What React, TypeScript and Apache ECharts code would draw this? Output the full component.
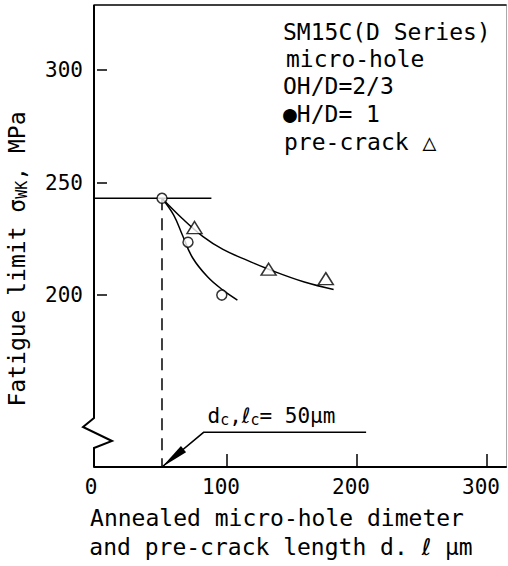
import React, { useEffect, useRef } from "react";
import * as echarts from "echarts";

// ---- data ----
const xTickLabels = [0, 100, 200, 300];
const xTickMarks = [100, 200, 300];
const yTickValues = [200, 250, 300];

// micro-hole H/D = 2/3 (open circles): diameter d (µm), fatigue limit (MPa)
const holeD = [50, 70, 96];
const holeSigma = [243, 223.5, 200];
// pre-crack (triangles): length l (µm), fatigue limit (MPa)
const crackL = [75, 132, 176];
const crackSigma = [230, 211.5, 207.3];

// hand-fitted curves through the points
const holeCurveX = [50, 59, 65.6, 73.4, 85.2, 96.9, 108];
const holeCurveY = [243, 235.5, 226.8, 216.7, 208, 202.2, 197.8];
const crackCurveX = [50, 65.6, 81.3, 96.9, 116.5, 134.5, 159.5, 182];
const crackCurveY = [243, 234, 226.1, 220.3, 215.2, 210.9, 205.8, 202.5];

// fatigue limit of smooth specimen and critical size
const limitSigma = 243;
const limitLineEnd = 88;
const criticalSize = 50;

// annotation anchor points (data units)
const annotElbow = [82, 139];
const annotEnd = [207, 139];
const annotText = [85, 141];

// axis ranges
const X_MIN = -2.3;
const X_MAX = 314.6;
const Y_MIN = 123.6;
const Y_MAX = 328.9;

const FONT = '"DejaVu Sans Mono", "DejaVu Sans", monospace';

const zip = (a: number[], b: number[]) => a.map((v, i) => [v, b[i]]);

export default function App() {
  const ref = useRef<HTMLDivElement>(null);
  useEffect(() => {
    if (!ref.current) return;
    const chart = echarts.init(ref.current, undefined, { renderer: "svg" });
    const black = "#000";
    chart.setOption({
      animation: false,
      backgroundColor: "#fff",
      textStyle: { fontFamily: FONT, color: black },
      grid: { left: 94, right: 2, top: 5, bottom: 99, containLabel: false },
      xAxis: [
        {
          type: "value",
          min: X_MIN,
          max: X_MAX,
          position: "bottom",
          axisLine: { show: true, onZero: false, lineStyle: { color: black, width: 2 } },
          axisTick: { show: true, inside: true, length: 13, customValues: xTickMarks, lineStyle: { color: black, width: 1.5 } },
          axisLabel: { show: true, customValues: xTickLabels, fontSize: 21, color: black, margin: 9, fontFamily: FONT, padding: [0, 12, 0, 0] },
          splitLine: { show: false },
        },
        {
          type: "value",
          min: X_MIN,
          max: X_MAX,
          position: "top",
          axisLine: { show: true, onZero: false, lineStyle: { color: black, width: 1.5 } },
          axisTick: { show: false },
          axisLabel: { show: false },
          splitLine: { show: false },
        },
      ],
      yAxis: [
        {
          type: "value",
          min: Y_MIN,
          max: Y_MAX,
          position: "left",
          axisLine: { show: false },
          axisTick: { show: true, inside: true, length: 10, customValues: yTickValues, lineStyle: { color: black, width: 1.5 } },
          axisLabel: { show: true, customValues: yTickValues, fontSize: 21, color: black, margin: 11, fontFamily: FONT },
          splitLine: { show: false },
        },
        {
          type: "value",
          min: Y_MIN,
          max: Y_MAX,
          position: "right",
          axisLine: { show: true, onZero: false, lineStyle: { color: "#aaa", width: 1 } },
          axisTick: { show: false },
          axisLabel: { show: false },
          splitLine: { show: false },
        },
      ],
      graphic: [
        // broken left axis with zig-zag
        {
          type: "polyline",
          z: 10,
          shape: { points: [[94, 5], [94, 418], [83, 427], [112, 441], [94, 448], [94, 467]] },
          style: { stroke: black, lineWidth: 2, fill: null },
        },
        // descriptive text block
        { type: "text", x: 283, y: 32, style: { text: "SM15C(D Series)", font: `23px ${FONT}`, fill: black, verticalAlign: "middle" } },
        { type: "text", x: 286, y: 59, style: { text: "micro-hole", font: `23px ${FONT}`, fill: black, verticalAlign: "middle" } },
        { type: "text", x: 283, y: 86, style: { text: "OH/D=2/3", font: `23px ${FONT}`, fill: black, verticalAlign: "middle" } },
        { type: "text", x: 283, y: 114, style: { text: "●H/D= 1", font: `23px ${FONT}`, fill: black, verticalAlign: "middle" } },
        { type: "text", x: 284, y: 142, style: { text: "pre-crack △", font: `23px ${FONT}`, fill: black, verticalAlign: "middle" } },
        // axis titles
        {
          type: "text",
          x: 17,
          y: 259,
          rotation: Math.PI / 2,
          style: {
            text: "Fatigue limit σ{sub|WK}, MPa",
            font: `23px ${FONT}`,
            fill: black,
            align: "center",
            verticalAlign: "middle",
            rich: { sub: { fontSize: 15, fontFamily: FONT, padding: [10, 0, 0, 0] } },
          },
        },
        { type: "text", x: 277, y: 518, style: { text: "Annealed micro-hole dimeter", font: `23px ${FONT}`, fill: black, align: "center", verticalAlign: "middle" } },
        { type: "text", x: 281, y: 547, style: { text: "and pre-crack length d. ℓ μm", font: `23px ${FONT}`, fill: black, align: "center", verticalAlign: "middle" } },
      ],
      series: [
        {
          type: "line",
          data: zip(holeCurveX, holeCurveY),
          smooth: 0.4,
          showSymbol: false,
          symbol: "none",
          lineStyle: { color: black, width: 1.5 },
          z: 2,
          silent: true,
        },
        {
          type: "line",
          data: zip(crackCurveX, crackCurveY),
          smooth: 0.4,
          showSymbol: false,
          symbol: "none",
          lineStyle: { color: black, width: 1.5 },
          z: 2,
          silent: true,
        },
        {
          type: "line",
          data: [[X_MIN, limitSigma], [limitLineEnd, limitSigma]],
          showSymbol: false,
          symbol: "none",
          lineStyle: { color: black, width: 1.5 },
          z: 2,
          silent: true,
        },
        {
          type: "line",
          data: [[criticalSize, limitSigma], [criticalSize, Y_MIN]],
          showSymbol: false,
          symbol: "none",
          lineStyle: { color: black, width: 1.5, type: [12, 8] },
          z: 2,
          silent: true,
        },
        {
          type: "scatter",
          name: "H/D=2/3",
          data: zip(holeD, holeSigma),
          symbol: "circle",
          symbolSize: 10,
          itemStyle: { color: "#fff", borderColor: black, borderWidth: 1.5 },
          z: 5,
        },
        {
          type: "scatter",
          name: "pre-crack",
          data: zip(crackL, crackSigma),
          symbol: "triangle",
          symbolSize: [15, 12],
          itemStyle: { color: "#fff", borderColor: black, borderWidth: 1.5 },
          z: 5,
        },
        {
          type: "custom",
          coordinateSystem: "cartesian2d",
          clip: false,
          silent: true,
          z: 6,
          data: [[criticalSize, Y_MIN]],
          renderItem: (_params: any, api: any) => {
            const tip = api.coord([criticalSize, Y_MIN]);
            const elbow = api.coord(annotElbow);
            const end = api.coord(annotEnd);
            const dx = tip[0] - elbow[0];
            const dy = tip[1] - elbow[1];
            const len = Math.hypot(dx, dy);
            const ux = dx / len;
            const uy = dy / len;
            const hl = 28;
            const hw = 4;
            const bx = tip[0] - ux * hl;
            const by = tip[1] - uy * hl;
            const nx = -uy;
            const ny = ux;
            const tp = api.coord(annotText);
            return {
              type: "group",
              children: [
                {
                  type: "polyline",
                  shape: { points: [end, elbow, tip] },
                  style: { stroke: black, lineWidth: 1.5, fill: null },
                },
                {
                  type: "polygon",
                  shape: { points: [tip, [bx + nx * hw, by + ny * hw], [bx - nx * hw, by - ny * hw]] },
                  style: { fill: black },
                },
                {
                  type: "text",
                  x: tp[0],
                  y: tp[1],
                  style: {
                    text: "d{s|c},ℓ{s|c}= 50μm",
                    font: `21px ${FONT}`,
                    fill: black,
                    align: "left",
                    verticalAlign: "bottom",
                    rich: { s: { fontSize: 15, fontFamily: FONT, padding: [8, 0, 0, 0] } },
                  },
                },
              ],
            };
          },
        },
      ],
    });
    return () => chart.dispose();
  }, []);
  return (
    <div
      ref={ref}
      style={{ position: "fixed", left: 0, top: 0, width: 508, height: 566, background: "#fff" }}
    />
  );
}
